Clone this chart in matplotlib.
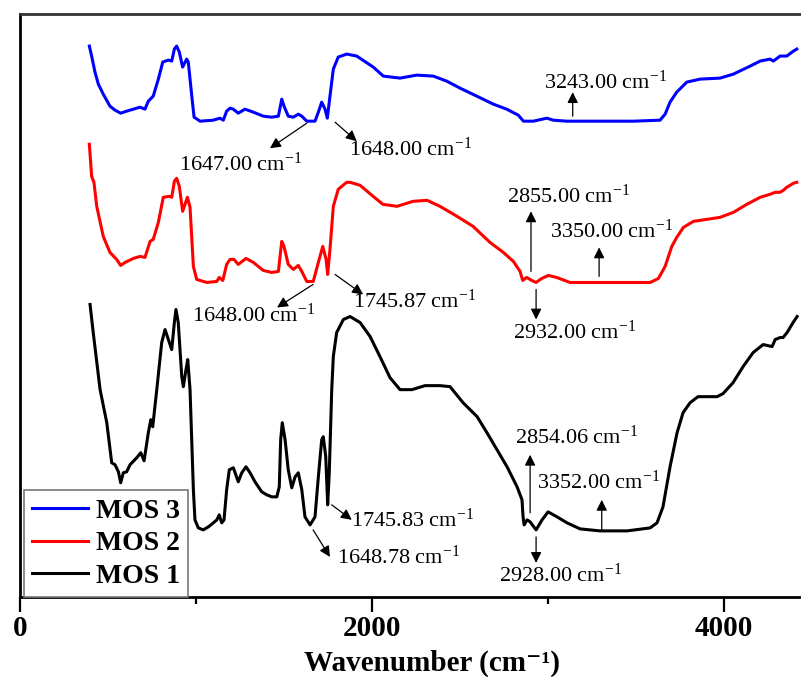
import matplotlib
matplotlib.use("Agg")
import matplotlib.pyplot as plt
from matplotlib.ticker import MultipleLocator

plt.rcParams['font.family'] = ['Liberation Serif', 'DejaVu Serif']
plt.rcParams['mathtext.fontset'] = 'custom'
plt.rcParams['mathtext.rm'] = 'Liberation Serif'
plt.rcParams['mathtext.bf'] = 'Liberation Serif:bold'
plt.rcParams['mathtext.it'] = 'Liberation Serif:italic'

# FTIR spectra, wavenumber (cm-1) vs transmittance (a.u., stacked)
mos1_wn = [398, 416, 455, 493, 521, 540, 559, 572, 587, 606, 625, 663, 686, 705, 729, 743, 754,
           777, 805, 824, 843, 862, 877, 886, 899, 919, 928, 943, 953, 966, 985, 994, 1013, 1041,
           1070, 1098, 1118, 1132, 1146, 1159, 1174, 1189, 1212, 1222, 1240, 1260, 1284, 1307,
           1335, 1373, 1402, 1430, 1459, 1473, 1481, 1490, 1506, 1524, 1544, 1563, 1581, 1601,
           1619, 1648, 1676, 1695, 1714, 1723, 1737, 1748, 1757, 1771, 1780, 1799, 1837, 1875,
           1932, 1989, 2045, 2102, 2159, 2227, 2301, 2386, 2443, 2517, 2597, 2653, 2710, 2767,
           2824, 2852, 2858, 2864, 2881, 2898, 2932, 2966, 3000, 3051, 3108, 3182, 3295, 3449,
           3580, 3619, 3653, 3693, 3733, 3767, 3807, 3852, 3960, 3994, 4051, 4108, 4165, 4222,
           4273, 4290, 4318, 4335, 4358, 4392, 4415]
mos1_t = [295, 267, 210, 177, 137, 135, 128, 117, 127, 128, 135, 142, 147, 139, 167, 180, 173,
          210, 257, 270, 260, 250, 277, 290, 277, 223, 213, 230, 240, 210, 110, 80, 72, 70,
          73, 77, 80, 85, 77, 80, 110, 130, 132, 127, 118, 127, 133, 127,
          118, 108, 105, 103, 103, 113, 160, 177, 160, 130, 112, 123, 127, 110,
          83, 75, 83, 123, 160, 163, 143, 95, 127, 210, 243, 267, 280, 283,
          277, 263, 243, 222, 210, 210, 214, 214, 213, 197, 183, 167, 150, 133,
          113, 100, 83, 75, 80, 78, 70, 80, 88, 83, 77, 71, 69, 69,
          72, 77, 93, 133, 167, 187, 197, 203, 203, 206, 217, 233, 247, 255,
          253, 260, 262, 262, 267, 277, 283]

mos2_wn = [394, 407, 420, 436, 473, 511, 549, 572, 597, 644, 682, 710, 739, 757, 786, 814, 848,
           862, 877, 890, 905, 924, 951, 966, 985, 1004, 1061, 1118, 1132, 1152, 1174, 1193,
           1216, 1240, 1284, 1326, 1382, 1430, 1468, 1487, 1500, 1524, 1553, 1581, 1601, 1629,
           1666, 1695, 1720, 1739, 1748, 1761, 1780, 1808, 1856, 1875, 1932, 2006, 2062, 2142,
           2233, 2313, 2386, 2483, 2574, 2670, 2746, 2803, 2841, 2856, 2879, 2907, 2932, 2964,
           3002, 3049, 3125, 3239, 3390, 3580, 3627, 3665, 3703, 3731, 3769, 3826, 3902, 3977,
           4053, 4129, 4205, 4261, 4290, 4318, 4337, 4356, 4394, 4413]
mos2_t = [455, 423, 417, 393, 363, 347, 340, 334, 337, 341, 343, 342, 358, 360, 377, 402, 403,
          402, 418, 421, 413, 388, 402, 392, 333, 320, 317, 318, 322, 319, 335, 340,
          340, 335, 341, 337, 329, 327, 328, 358, 353, 335, 330, 334, 328, 318,
          318, 337, 353, 340, 325, 350, 393, 410, 417, 417, 414, 403, 395, 393,
          398, 399, 393, 383, 373, 357, 347, 338, 328, 319, 322, 319, 317, 321,
          324, 322, 317, 317, 317, 317, 321, 333, 353, 362, 372, 378, 380, 382,
          387, 395, 402, 405, 407, 407, 409, 412, 416, 417]

mos3_wn = [394, 407, 426, 445, 473, 511, 540, 572, 606, 644, 682, 710, 729, 757, 786, 811, 843,
           862, 877, 890, 905, 924, 947, 956, 976, 989, 1023, 1098, 1136, 1155, 1174, 1193,
           1212, 1240, 1278, 1326, 1382, 1430, 1468, 1487, 1500, 1524, 1553, 1581, 1601, 1629,
           1676, 1695, 1714, 1733, 1746, 1761, 1780, 1808, 1856, 1913, 2007, 2064, 2159, 2254,
           2348, 2424, 2500, 2595, 2689, 2765, 2831, 2860, 2916, 2993, 3030, 3106, 3295, 3485,
           3636, 3665, 3693, 3731, 3788, 3864, 3977, 4053, 4148, 4205, 4261, 4280, 4318, 4356,
           4394, 4413]
mos3_t = [553, 543, 527, 515, 505, 493, 489, 486, 488, 490, 492, 490, 498, 503, 520, 537, 539,
          538, 550, 553, 547, 532, 540, 537, 503, 482, 478, 479, 481, 479, 488, 491,
          490, 486, 490, 487, 483, 482, 483, 500, 493, 483, 482, 485, 483, 478,
          478, 487, 497, 490, 481, 503, 530, 542, 545, 543, 532, 523, 521, 524,
          523, 518, 511, 503, 495, 490, 484, 478, 478, 481, 479, 478, 478, 478,
          479, 485, 497, 507, 517, 520, 521, 525, 533, 538, 540, 538, 543, 543,
          548, 550]

# peak labels: text, arrow head (wn, t), arrow tail (wn, t), text centre (wn, t)
peak_labels = ['1647.00', '1648.00', '3243.00',
               '1648.00', '1745.87', '2855.00', '3350.00', '2932.00',
               '1648.78', '1745.83', '2854.06', '3352.00', '2928.00']
arrow_head = [(1420, 451), (1913, 458), (3140, 507),
              (1460, 292), (1949, 305), (2903, 388), (3290, 352), (2932, 280),
              (1761, 43), (1885, 80), (2898, 145), (3305, 100), (2932, 37)]
arrow_tail = [(1629, 476), (1790, 477), (3140, 483),
              (1665, 315), (1790, 325), (2903, 328), (3290, 323), (2932, 310),
              (1665, 70), (1771, 95), (2898, 87), (3305, 70), (2932, 63)]
label_pos = [(1250, 435), (2216, 450), (3324, 517),
             (1324, 284), (2239, 298), (3114, 403), (3358, 368), (3148, 267),
             (2153, 43), (2227, 80), (3159, 163), (3284, 118), (3068, 25)]

fig = plt.figure(figsize=(8.01, 6.77), dpi=100)
ax = fig.add_axes([20 / 801, 80 / 677, 781 / 801, 583 / 677])

ax.plot(mos3_wn, mos3_t, color='#0000ff', lw=2.2, label='MOS 3', solid_joinstyle='round')
ax.plot(mos2_wn, mos2_t, color='#ff0000', lw=2.2, label='MOS 2', solid_joinstyle='round')
ax.plot(mos1_wn, mos1_t, color='black', lw=2.2, label='MOS 1', solid_joinstyle='round')

for lab, head, tail, pos in zip(peak_labels, arrow_head, arrow_tail, label_pos):
    ax.annotate('', xy=head, xytext=tail,
                arrowprops=dict(arrowstyle='-|>', color='black', lw=0.9,
                                mutation_scale=16, shrinkA=0, shrinkB=0))
    ax.text(pos[0], pos[1], lab + ' cm$^{\\mathrm{-1}}$', fontsize=16,
            ha='center', va='center')

ax.set_xlim(0, 4437)
ax.set_ylim(3, 585)
ax.xaxis.set_major_locator(MultipleLocator(2000))
ax.xaxis.set_minor_locator(MultipleLocator(1000))
ax.tick_params(axis='x', which='major', direction='out', length=11, width=1.6,
               labelsize=21, pad=2)
ax.tick_params(axis='x', which='minor', direction='out', length=5, width=1.6)
ax.set_yticks([])
for lbl in ax.get_xticklabels():
    lbl.set_fontweight('bold')
ax.spines['right'].set_visible(False)
for s in ['left', 'bottom', 'top']:
    ax.spines[s].set_linewidth(2)
ax.spines['top'].set_color('#333333')

ax.set_xlabel('Wavenumber (cm\u207b\u00b9)', fontsize=21, fontweight='bold')
ax.xaxis.label.set_va('bottom')
ax.xaxis.set_label_coords(0.528, -0.137)

leg = ax.legend(loc='lower left', bbox_to_anchor=(0.005, 0.0), borderaxespad=0,
                fancybox=False, edgecolor='#777777', framealpha=1,
                prop={'size': 20, 'weight': 'bold'}, handlelength=2.0,
                handletextpad=0.3, labelspacing=0.25, borderpad=0.3)
leg.get_frame().set_linewidth(1.2)

fig.savefig('out.png', dpi=100)
